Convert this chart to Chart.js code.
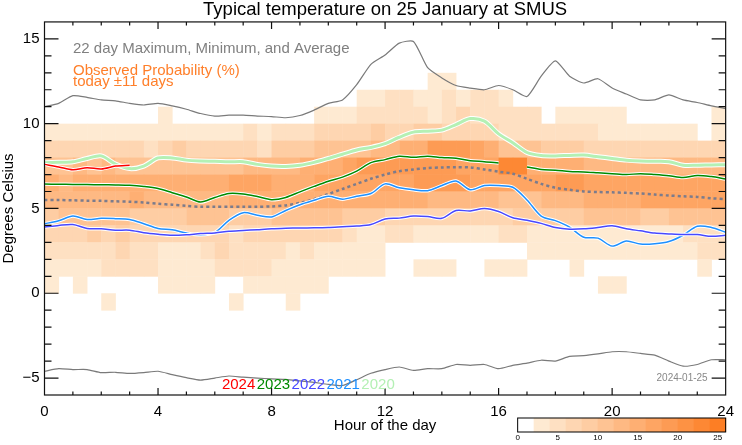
<!DOCTYPE html>
<html>
<head>
<meta charset="utf-8">
<title>Typical temperature on 25 January at SMUS</title>
<script src="https://cdn.jsdelivr.net/npm/chart.js@4.4.1/dist/chart.umd.min.js"></script>
<style>
  html, body { margin: 0; padding: 0; background: #fff; }
</style>
</head>
<body>
<canvas id="tempChart" width="742" height="445"></canvas>
<script>
// Hour of day, every half hour
const hours = [0, 0.5, 1, 1.5, 2, 2.5, 3, 3.5, 4, 4.5, 5, 5.5, 6, 6.5, 7, 7.5, 8, 8.5, 9, 9.5,
    10, 10.5, 11, 11.5, 12, 12.5, 13, 13.5, 14, 14.5, 15, 15.5, 16, 16.5, 17, 17.5, 18, 18.5, 19, 19.5,
    20, 20.5, 21, 21.5, 22, 22.5, 23, 23.5, 24];

// 22 day maximum / minimum / average (deg C)
const maxTemp = [11.0, 11.2, 11.65, 11.55, 11.4, 11.35, 11.2, 11.1, 11.2, 11.05, 10.85, 10.6, 10.45, 10.5, 10.5, 10.45,
    10.42, 10.35, 10.48, 10.8, 11.2, 11.4, 12.3, 13.5, 14.05, 14.75, 14.85, 13.3, 12.7, 12.25, 12.1, 12.0,
    12.25, 12.0, 11.6, 12.8, 13.7, 12.8, 12.4, 12.65, 12.1, 11.75, 11.4, 11.4, 11.7, 11.4, 11.25, 11.05, 10.9];
const minTemp = [-4.6, -4.45, -4.5, -4.5, -4.68, -4.66, -4.73, -4.68, -4.6, -4.8, -4.98, -5.12, -5.0, -4.88, -4.95, -5.0,
    -5.05, -5.08, -5.17, -5.26, -5.37, -5.44, -5.1, -4.72, -4.5, -4.35, -4.55, -4.45, -4.45, -4.2, -4.25, -4.2,
    -4.45, -4.25, -4.12, -3.95, -4.0, -3.72, -3.68, -3.58, -3.45, -3.45, -3.55, -3.65, -4.0, -4.3, -4.2, -3.92, -3.92];
const avgTemp = [5.5, 5.5, 5.48, 5.46, 5.45, 5.42, 5.4, 5.35, 5.28, 5.22, 5.15, 5.1, 5.1, 5.1, 5.1, 5.1,
    5.12, 5.18, 5.33, 5.55, 5.85, 6.15, 6.45, 6.75, 7.0, 7.2, 7.3, 7.38, 7.42, 7.43, 7.42, 7.3,
    7.17, 7.05, 6.75, 6.45, 6.22, 6.1, 6.0, 5.97, 5.95, 5.92, 5.88, 5.82, 5.76, 5.72, 5.68, 5.6, 5.55];

// Individual years
const t2020 = [7.7, 7.72, 7.75, 7.95, 8.1, 7.62, 7.35, 7.5, 7.98, 7.98, 7.85, 7.8, 7.78, 7.75, 7.76, 7.6,
    7.5, 7.48, 7.55, 7.72, 7.95, 8.2, 8.45, 8.6, 8.82, 9.2, 9.5, 9.56, 9.62, 9.95, 10.3, 10.15,
    9.4, 8.88, 8.3, 8.12, 8.1, 8.13, 8.15, 8.05, 7.95, 7.85, 7.8, 7.78, 7.76, 7.55, 7.55, 7.57, 7.58];
const t2021 = [4.1, 4.27, 4.55, 4.35, 4.42, 4.4, 4.35, 4.1, 3.82, 3.74, 3.55, 3.45, 3.58, 4.3, 4.75, 4.6,
    4.5, 4.88, 5.22, 5.48, 5.72, 5.55, 5.72, 5.88, 6.45, 6.22, 6.1, 6.05, 6.35, 6.62, 6.1, 6.35,
    6.35, 6.25, 5.5, 4.55, 4.28, 3.9, 3.3, 3.25, 2.78, 3.08, 2.9, 2.92, 3.05, 3.42, 3.95, 3.88, 3.6];
const t2022 = [3.9, 4.0, 4.05, 3.82, 3.8, 3.72, 3.72, 3.57, 3.48, 3.42, 3.45, 3.52, 3.56, 3.65, 3.7, 3.75,
    3.8, 3.83, 3.85, 3.86, 3.88, 3.92, 3.96, 4.05, 4.38, 4.43, 4.55, 4.52, 4.42, 4.88, 4.85, 5.0,
    4.82, 4.45, 4.3, 4.12, 3.88, 3.78, 3.8, 3.88, 3.98, 3.8, 3.68, 3.55, 3.5, 3.46, 3.46, 3.36, 3.42];
const t2023 = [6.44, 6.43, 6.42, 6.41, 6.4, 6.39, 6.37, 6.3, 6.18, 5.93, 5.68, 5.38, 5.65, 5.88, 5.85, 5.7,
    5.52, 5.65, 5.98, 6.3, 6.6, 6.85, 7.2, 7.7, 7.88, 8.08, 8.02, 8.08, 8.0, 7.96, 7.82, 7.76,
    7.68, null, 7.45, 7.3, 7.26, 7.18, 7.15, 7.1, 7.05, 7.0, 7.05, 7.0, 6.93, 6.82, 6.95, 6.88, 6.74];
const t2024 = [7.6, 7.45, 7.28, 7.4, 7.33, 7.5, 7.55];

const years = ['2024', '2023', '2022', '2021', '2020'];
const yearColors = ['#ff0000', '#008a00', '#4848ff', '#1e90ff', '#b4f0b4'];

// Observed probability class per half-hour cell (0 = none, 1..c = 2%-wide bins)
// one row per 1 deg C band, lower edge given in tempBins
const tempBins = [12, 11, 10, 9, 8, 7, 6, 5, 4, 3, 2, 1, 0, -1];
const probClass = [
    '00000000 00000000 00000000 00011000 00000000 00000000',
    '00000000 00000000 00000011 22112122 10000000 00000000',
    '00000000 10000000 00011122 22212322 22201111 10000001',
    '11111111 11111121 22233334 33443333 22222221 11111101',
    '33333332 34333332 44455556 67799987 55544433 33333333',
    '55656555 55555566 66777899 99999888 bb777766 66666666',
    '76777777 77777888 77788888 88999988 88889988 88888888',
    '66666676 66666777 77777777 77766666 55566677 77888888',
    '45555544 44555444 55555444 33333333 34444455 55445555',
    '33343433 33333233 33333211 22111111 22111111 11111222',
    '22222322 11123222 21211111 00000000 00111111 11111122',
    '11112222 11112222 11111111 00111001 11000100 00000010',
    '10100000 11110011 11110000 00000000 00000001 10000000',
    '00001000 00000100 01000000 00000000 00000000 00000000'
];
const levelColors = ['#ffffff', '#feead2', '#fee0c2', '#fed6b2', '#fecda3', '#fec393', '#feb983',
    '#feaf73', '#fea563', '#fd9b54', '#fd9244', '#fd8834', '#fd7e24'];
const barTicks = [0, 5, 10, 15, 20, 25];

const xTicks = [0, 4, 8, 12, 16, 20, 24];
const yTicks = [-5, 0, 5, 10, 15];

const FONT = '"Liberation Sans", Arial, Helvetica, sans-serif';
Chart.defaults.font.family = FONT;
Chart.defaults.color = '#000';

function series(values, extra) {
    return Object.assign({
        data: values.map((v, i) => ({ x: hours[i], y: v })),
        pointRadius: 0,
        borderWidth: 1,
        tension: 0.3,
        fill: false,
        spanGaps: false
    }, extra);
}

const datasets = [
    series(maxTemp, { borderColor: '#7a7a7a', borderWidth: 1.2, tension: 0.2 }),
    series(minTemp, { borderColor: '#7a7a7a', borderWidth: 1.2, tension: 0.2 }),
    series(avgTemp, { borderColor: '#7c7c8c', borderWidth: 2.5, borderDash: [3, 3] })
];
// years drawn oldest first, each with a thin white halo under it
[t2020, t2021, t2022, t2023, t2024].forEach((vals, i) => {
    const color = yearColors[4 - i];
    const w = i === 0 ? 3 : 1.5;
    datasets.push(series(vals, { borderColor: '#ffffff', borderWidth: w + 2 }));
    datasets.push(series(vals, { borderColor: color, borderWidth: w }));
});
datasets.forEach((d, i) => { d.order = datasets.length - i; });

// Probability cells behind the lines
const heatmapPlugin = {
    id: 'heatmap',
    beforeDatasetsDraw(chart) {
        const { ctx, scales: { x, y } } = chart;
        ctx.save();
        tempBins.forEach((t, r) => {
            const cells = probClass[r].replace(/ /g, '');
            for (let c = 0; c < cells.length; c++) {
                const lvl = parseInt(cells[c], 16);
                if (!lvl) continue;
                const x0 = x.getPixelForValue(c * 0.5);
                const x1 = x.getPixelForValue(c * 0.5 + 0.5);
                const y0 = y.getPixelForValue(t + 1);
                const y1 = y.getPixelForValue(t);
                ctx.fillStyle = levelColors[lvl];
                ctx.fillRect(x0, y0, x1 - x0 + 0.4, y1 - y0 + 0.4);
            }
        });
        ctx.restore();
    }
};

// Box and inward ticks
const framePlugin = {
    id: 'frame',
    afterDatasetsDraw(chart) {
        const { ctx, chartArea: { left, right, top, bottom }, scales: { x, y } } = chart;
        ctx.save();
        ctx.strokeStyle = '#111';
        ctx.lineWidth = 1.2;
        ctx.strokeRect(left, top, right - left, bottom - top);
        ctx.beginPath();
        for (let v = Math.ceil(y.min) + 1; v < y.max; v++) {
            const py = y.getPixelForValue(v);
            const len = v % 5 === 0 ? 14 : 7;
            ctx.moveTo(left, py); ctx.lineTo(left + len, py);
            ctx.moveTo(right, py); ctx.lineTo(right - len, py);
        }
        for (let h = 1; h < 24; h++) {
            const px = x.getPixelForValue(h);
            const len = h % 4 === 0 ? 7 : 3.5;
            ctx.moveTo(px, bottom); ctx.lineTo(px, bottom - len);
            ctx.moveTo(px, top); ctx.lineTo(px, top + len);
        }
        ctx.stroke();
        ctx.restore();
    }
};

// Text notes, year key, date and colour bar
const notesPlugin = {
    id: 'notes',
    afterDraw(chart) {
        const { ctx, chartArea: { left, right }, scales: { x, y } } = chart;
        ctx.save();
        ctx.textAlign = 'left';
        ctx.textBaseline = 'alphabetic';

        ctx.font = '15px ' + FONT;
        ctx.fillStyle = '#808080';
        ctx.fillText('22 day Maximum, Minimum, and Average', left + 28.5, 53);

        ctx.font = '15px ' + FONT;
        ctx.fillStyle = '#ff7f2a';
        ctx.fillText('Observed Probability (%)', left + 28.5, 74.5);
        ctx.fillText('today \u00b111 days', left + 28.5, 86);

        ctx.font = '15px ' + FONT;
        let px = x.getPixelForValue(6.25);
        const py = y.getPixelForValue(-5.5) + 2;
        years.forEach((yr, i) => {
            ctx.fillStyle = yearColors[i];
            ctx.fillText(yr, px, py);
            px += ctx.measureText(yr).width + 1.5;
        });

        ctx.font = '10px ' + FONT;
        ctx.fillStyle = '#888';
        ctx.textAlign = 'right';
        ctx.fillText('2024-01-25', right - 18, y.getPixelForValue(-5.2));

        // colour bar, 8 px per percent
        const unit = 8;
        const barLeft = right - 26 * unit;
        const barTop = 418, barH = 14;
        for (let i = 0; i < levelColors.length; i++) {
            ctx.fillStyle = levelColors[i];
            ctx.fillRect(barLeft + i * 2 * unit, barTop, 2 * unit + 0.5, barH);
        }
        ctx.strokeStyle = '#000';
        ctx.lineWidth = 1;
        ctx.strokeRect(barLeft, barTop, 26 * unit, barH);
        ctx.font = '8px ' + FONT;
        ctx.fillStyle = '#000';
        ctx.textAlign = 'center';
        barTicks.forEach(t => {
            ctx.fillText(String(t), barLeft + t * unit, 440);
        });
        ctx.restore();
    }
};

new Chart(document.getElementById('tempChart'), {
    type: 'line',
    data: { datasets: datasets },
    plugins: [heatmapPlugin, framePlugin, notesPlugin],
    options: {
        responsive: false,
        animation: false,
        events: [],
        devicePixelRatio: 1,
        layout: { padding: { left: 0, right: 14, top: 0, bottom: 0 } },
        plugins: {
            legend: { display: false },
            tooltip: { enabled: false },
            title: {
                display: true,
                text: 'Typical temperature on 25 January at SMUS',
                fullSize: false,
                color: '#000',
                font: { size: 18.5, weight: 'normal', lineHeight: 1.05 },
                padding: { top: 0, bottom: 2.5 }
            }
        },
        scales: {
            x: {
                type: 'linear',
                min: 0,
                max: 24,
                afterBuildTicks: axis => { axis.ticks = xTicks.map(v => ({ value: v })); },
                afterFit: scale => { scale.height = 50; },
                grid: { display: false, drawTicks: false },
                border: { display: false },
                ticks: { font: { size: 15 }, padding: 8, maxRotation: 0, color: '#000' },
                title: {
                    display: true,
                    text: 'Hour of the day',
                    font: { size: 15, lineHeight: 1.2 },
                    padding: { top: 0, bottom: 10 },
                    color: '#000'
                }
            },
            y: {
                min: -6,
                max: 16,
                afterBuildTicks: axis => { axis.ticks = yTicks.map(v => ({ value: v })); },
                afterFit: scale => { scale.width = 44.5; },
                grid: { display: false, drawTicks: false },
                border: { display: false },
                ticks: {
                    font: { size: 15 },
                    padding: 5,
                    color: '#000',
                    callback: v => String(v).replace('-', '\u2212')
                },
                title: {
                    display: true,
                    text: 'Degrees Celsius',
                    font: { size: 15, lineHeight: 1.0 },
                    padding: { top: 1, bottom: 0 },
                    color: '#000'
                }
            }
        }
    }
});
</script>
</body>
</html>
